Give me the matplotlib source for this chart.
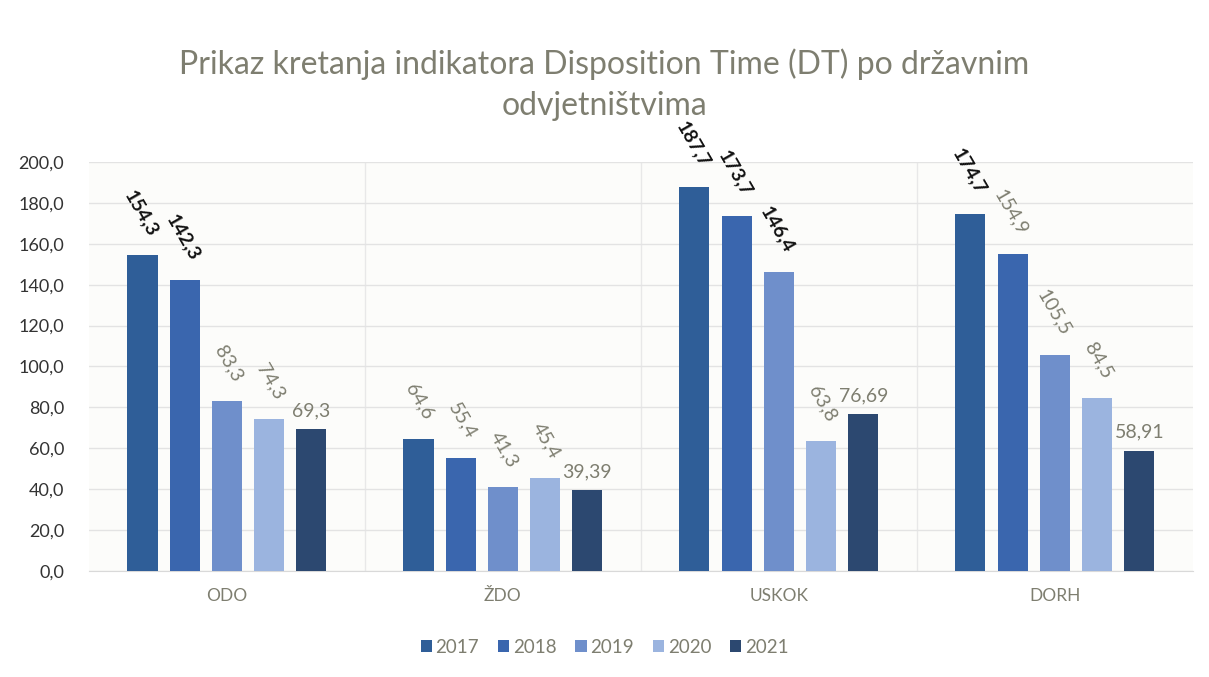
import matplotlib
matplotlib.use("Agg")
import matplotlib.pyplot as plt
import numpy as np

plt.rcParams['font.family'] = ['Lato', 'DejaVu Sans']

categories = ["ODO", "ŽDO", "USKOK", "DORH"]
years = ["2017", "2018", "2019", "2020", "2021"]
values = {
    "2017": [154.3, 64.6, 187.7, 174.7],
    "2018": [142.3, 55.4, 173.7, 154.9],
    "2019": [83.3, 41.3, 146.4, 105.5],
    "2020": [74.3, 45.4, 63.8, 84.5],
    "2021": [69.3, 39.39, 76.69, 58.91],
}
label_texts = {
    "2017": ["154,3", "64,6", "187,7", "174,7"],
    "2018": ["142,3", "55,4", "173,7", "154,9"],
    "2019": ["83,3", "41,3", "146,4", "105,5"],
    "2020": ["74,3", "45,4", "63,8", "84,5"],
    "2021": ["69,3", "39,39", "76,69", "58,91"],
}
# which labels are shown bold/black
bold_labels = {
    "2017": [True, False, True, True],
    "2018": [True, False, True, False],
    "2019": [False, False, True, False],
    "2020": [False, False, False, False],
    "2021": [False, False, False, False],
}
yticks = [0, 20, 40, 60, 80, 100, 120, 140, 160, 180, 200]
ytick_labels = ["0,0", "20,0", "40,0", "60,0", "80,0", "100,0", "120,0",
                "140,0", "160,0", "180,0", "200,0"]

colors = ["#2F5E98", "#3A66AE", "#6F8FCB", "#9BB4DF", "#2C4870"]
gray = "#7E7E70"

fig = plt.figure(figsize=(12.09, 6.77), dpi=100)
ax = fig.add_axes([0.0736, 0.1566, 0.913, 0.6041])

x = np.arange(len(categories))
step = 0.153
width = 0.109
for i, yr in enumerate(years):
    off = (i - 2) * step
    bars = ax.bar(x + off, values[yr], width=width, color=colors[i], label=yr, zorder=3)
    for j, b in enumerate(bars):
        h = b.get_height()
        cx = b.get_x() + b.get_width() / 2
        txt = label_texts[yr][j]
        isbold = bold_labels[yr][j]
        col = "#111111" if isbold else gray
        fw = "bold" if isbold else "normal"
        horizontal = (yr == "2021")
        if horizontal:
            ax.annotate(txt, (cx, h), xytext=(0, 7), textcoords="offset points",
                        ha="center", va="bottom", fontsize=14, color=col,
                        fontweight=fw, clip_on=False)
        else:
            ax.annotate(txt, (cx, h), xytext=(8, 15), textcoords="offset points",
                        ha="right", va="center", rotation=-60,
                        rotation_mode="anchor", fontsize=14, color=col,
                        fontweight=fw, clip_on=False)

ax.set_xlim(-0.5, len(categories) - 0.5)
ax.set_ylim(0, 200)
ax.set_yticks(yticks)
ax.set_yticklabels(ytick_labels, fontsize=13, color="#333333")
ax.set_xticks(x)
ax.set_xticklabels(categories, fontsize=12.5, color=gray)
ax.tick_params(axis="both", length=0)
ax.tick_params(axis="y", pad=18)
ax.tick_params(axis="x", pad=12)

ax.yaxis.grid(True, color="#E3E3E3", linewidth=1, zorder=0)
for b in [0.5, 1.5, 2.5]:
    ax.axvline(b, color="#E8E8E8", linewidth=1, zorder=0)
for s in ["top", "right", "left"]:
    ax.spines[s].set_visible(False)
ax.spines["bottom"].set_color("#D9D9D9")
ax.set_facecolor("#FCFCFA")

fig.text(0.5, 0.905, "Prikaz kretanja indikatora Disposition Time (DT) po državnim",
         ha="center", va="center", fontsize=23, color=gray)
fig.text(0.5, 0.843, "odvjetništvima", ha="center", va="center", fontsize=23, color=gray)

leg = fig.legend(loc="center", bbox_to_anchor=(0.5, 0.044), ncol=5, frameon=False,
                 fontsize=13.5, handlelength=0.6, handleheight=0.6, handletextpad=0.2,
                 columnspacing=1.0)
for t in leg.get_texts():
    t.set_color(gray)

fig.savefig("out.png", dpi=100, facecolor="white")
